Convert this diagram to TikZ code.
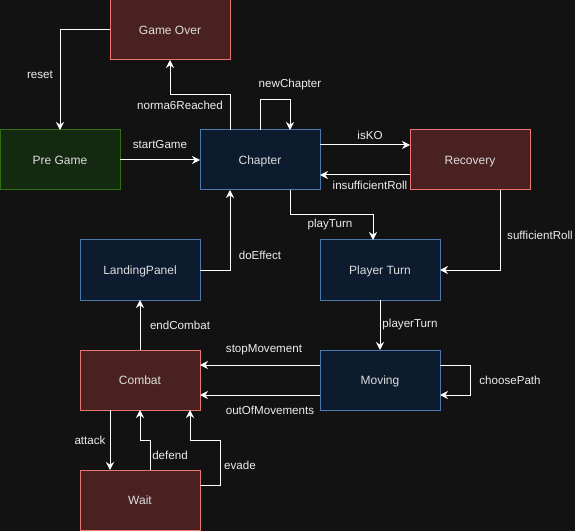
\documentclass[tikz,border=0pt]{standalone}
\usepackage{fontspec}
\setmainfont{Liberation Sans}
\usetikzlibrary{arrows.meta,calc}
\definecolor{canvas}{HTML}{121212}
\definecolor{redfill}{HTML}{4A2121}
\definecolor{redline}{HTML}{EA7672}
\definecolor{greenfill}{HTML}{132910}
\definecolor{greenline}{HTML}{2F7012}
\definecolor{bluefill}{HTML}{0C1B2E}
\definecolor{blueline}{HTML}{4D79B3}
\definecolor{boxtext}{HTML}{DEDEDE}
\definecolor{lbltext}{HTML}{EDEDED}
\begin{document}
\begin{tikzpicture}[x=0.75pt,y=-0.75pt,
    state/.style={draw,minimum width=90pt,minimum height=45pt,inner sep=0pt,outer sep=0pt,
      line width=0.75pt,text=boxtext,text height=8.15pt,text depth=1.9pt,font=\fontsize{9}{11}\selectfont},
    redstate/.style={state,draw=redline,fill=redfill},
    greenstate/.style={state,draw=greenline,fill=greenfill},
    bluestate/.style={state,draw=blueline,fill=bluefill},
    flow/.style={draw=white,line width=0.75pt,-{Stealth[length=6pt,width=6pt,inset=2pt]}},
    lbl/.style={text=lbltext,inner sep=0pt,font=\fontsize{8.7}{10}\selectfont}]
  \fill[canvas] (0,0) rectangle (575,531);
  \useasboundingbox (0,0) rectangle (575,531);

  % states
  \node[redstate] (over) at (170,30) {Game Over};
  \node[greenstate] (pre) at (60,160) {Pre Game};
  \node[bluestate] (chapter) at (260,160) {Chapter};
  \node[redstate] (recovery) at (470,160) {Recovery};
  \node[bluestate] (landing) at (140,270) {LandingPanel};
  \node[bluestate] (player) at (380,270) {Player Turn};
  \node[redstate] (combat) at (140,380) {Combat};
  \node[bluestate] (moving) at (380,380) {Moving};
  \node[redstate] (wait) at (140,500) {Wait};

  % transitions
  \draw[flow] (over.west) -| (pre.north) node[lbl] at (40,75) {reset};
  \draw[flow] ($(chapter.north)+(-30,0)$) -- ++(0,-35) -| (over.south) node[lbl] at (180,105) {norma6Reached};
  \draw[flow] (chapter.north) -- ++(0,-30) -| ($(chapter.north)+(30,0)$) node[lbl] at (290,85) {newChapter};
  \draw[flow] (pre.east) -- (chapter.west) node[lbl] at (160,145) {startGame};
  \draw[flow] ($(chapter.east)+(0,-15)$) -- ($(recovery.west)+(0,-15)$) node[lbl] at (370,135) {isKO};
  \draw[flow] ($(recovery.west)+(0,15)$) -- ($(chapter.east)+(0,15)$) node[lbl] at (370,185) {insufficientRoll};
  \draw[flow] ($(chapter.south)+(30,0)$) -- ++(0,25) -| ($(player.north)+(-7,0)$) node[lbl] at (330,225) {playTurn};
  \draw[flow] ($(recovery.south)+(30,0)$) |- (player.east) node[lbl] at (540,235) {sufficientRoll};
  \draw[flow] (player.south) -- (moving.north) node[lbl] at (410,325) {playerTurn};
  \draw[flow] ($(moving.east)+(0,-15)$) -- ++(30,0) |- ($(moving.east)+(0,15)$) node[lbl] at (510,380) {choosePath};
  \draw[flow] ($(moving.west)+(0,-15)$) -- ($(combat.east)+(0,-15)$) node[lbl] at (264,350) {stopMovement};
  \draw[flow] ($(moving.west)+(0,15)$) -- ($(combat.east)+(0,15)$) node[lbl] at (270,410) {outOfMovements};
  \draw[flow] (landing.east) -| ($(chapter.south)+(-30,0)$) node[lbl] at (260,255) {doEffect};
  \draw[flow] (combat.north) -- (landing.south) node[lbl] at (180,325) {endCombat};
  \draw[flow] ($(combat.south)+(-30,0)$) -- ($(wait.north)+(-30,0)$) node[lbl] at (90,440) {attack};
  \draw[flow] ($(wait.north)+(10,0)$) -- ++(0,-30) -| (combat.south) node[lbl] at (170,455) {defend};
  \draw[flow] ($(wait.east)+(0,-15)$) -- ++(20,0) -- ++(0,-45) -| ($(combat.south)+(50,0)$) node[lbl] at (240,465) {evade};
\end{tikzpicture}
\end{document}
